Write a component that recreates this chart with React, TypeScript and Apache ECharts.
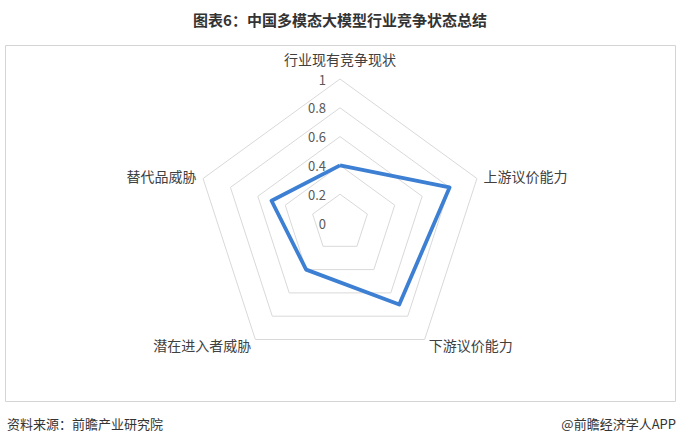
import React, { useEffect, useRef } from "react";
import * as echarts from "echarts";

const titleText = "图表6：中国多模态大模型行业竞争状态总结";
const sourceText = "资料来源：前瞻产业研究院";
const brandText = "@前瞻经济学人APP";

// Clockwise from top, as in the reference
const categories = ["行业现有竞争现状", "上游议价能力", "下游议价能力", "潜在进入者威胁", "替代品威胁"];
const values = [0.4, 0.8, 0.7, 0.4, 0.5];
const axisMax = 1;

const FONT = "'Noto Sans CJK SC', 'Noto Sans', sans-serif";

export default function App() {
  const ref = useRef<HTMLDivElement>(null);
  useEffect(() => {
    if (!ref.current) return;
    const chart = echarts.init(ref.current, undefined, { renderer: "svg" });
    // ECharts lays indicators counter-clockwise; reverse the tail to get clockwise order
    const order = [0, ...categories.slice(1).map((_, i) => categories.length - 1 - i)];
    const indicator = order.map((idx, k) => ({
      name: categories[idx],
      max: axisMax,
      min: 0,
      ...(k === 0
        ? {
            axisLabel: {
              show: true,
              color: "#595959",
              fontSize: 13,
              fontFamily: FONT,
              margin: 14,
              showMinLabel: true,
              showMaxLabel: true,
              formatter: (v: number) => String(Math.round(v * 10) / 10),
            },
          }
        : {}),
    }));
    const data = order.map((idx) => values[idx]);

    chart.setOption({
      animation: false,
      backgroundColor: "#ffffff",
      textStyle: { fontFamily: FONT },
      radar: {
        center: [340, 223],
        radius: 144,
        splitNumber: 5,
        nameGap: 7,
        axisName: {
          color: "#404040",
          fontSize: 14,
          fontFamily: FONT,
          formatter: (name: string) => (name === categories[0] ? `{top|${name}}` : name),
          rich: {
            top: { color: "#404040", fontSize: 14, fontFamily: FONT, padding: [0, 0, 6, 0] },
          },
        },
        axisLine: { show: false },
        axisTick: { show: false },
        axisLabel: { show: false },
        splitLine: { lineStyle: { color: "#d9d9d9", width: 1 } },
        splitArea: { show: false },
        indicator,
      },
      series: [
        {
          type: "radar",
          symbol: "none",
          lineStyle: { color: "#3d7fd2", width: 3.8 },
          data: [{ value: data, name: "竞争状态" }],
        },
      ],
      graphic: [
        {
          type: "rect",
          shape: { x: 5.5, y: 45.5, width: 670, height: 356 },
          style: { fill: "none", stroke: "#d4d4d4", lineWidth: 1 },
          silent: true,
        },
        {
          type: "text",
          x: 340,
          y: 19,
          style: {
            text: titleText,
            fontSize: 15,
            fontWeight: "bold",
            fontFamily: FONT,
            fill: "#333333",
            textAlign: "center",
            textVerticalAlign: "middle",
          },
        },
        {
          type: "text",
          x: 7,
          y: 423,
          style: {
            text: sourceText,
            fontSize: 13,
            fontFamily: FONT,
            fill: "#333333",
            textAlign: "left",
            textVerticalAlign: "middle",
          },
        },
        {
          type: "text",
          x: 676,
          y: 423,
          style: {
            text: brandText,
            fontSize: 13,
            fontFamily: FONT,
            fill: "#333333",
            textAlign: "right",
            textVerticalAlign: "middle",
          },
        },
      ],
    });
    return () => chart.dispose();
  }, []);
  return (
    <div
      ref={ref}
      style={{ position: "fixed", left: 0, top: 0, width: 681, height: 446, background: "#fff" }}
    />
  );
}
